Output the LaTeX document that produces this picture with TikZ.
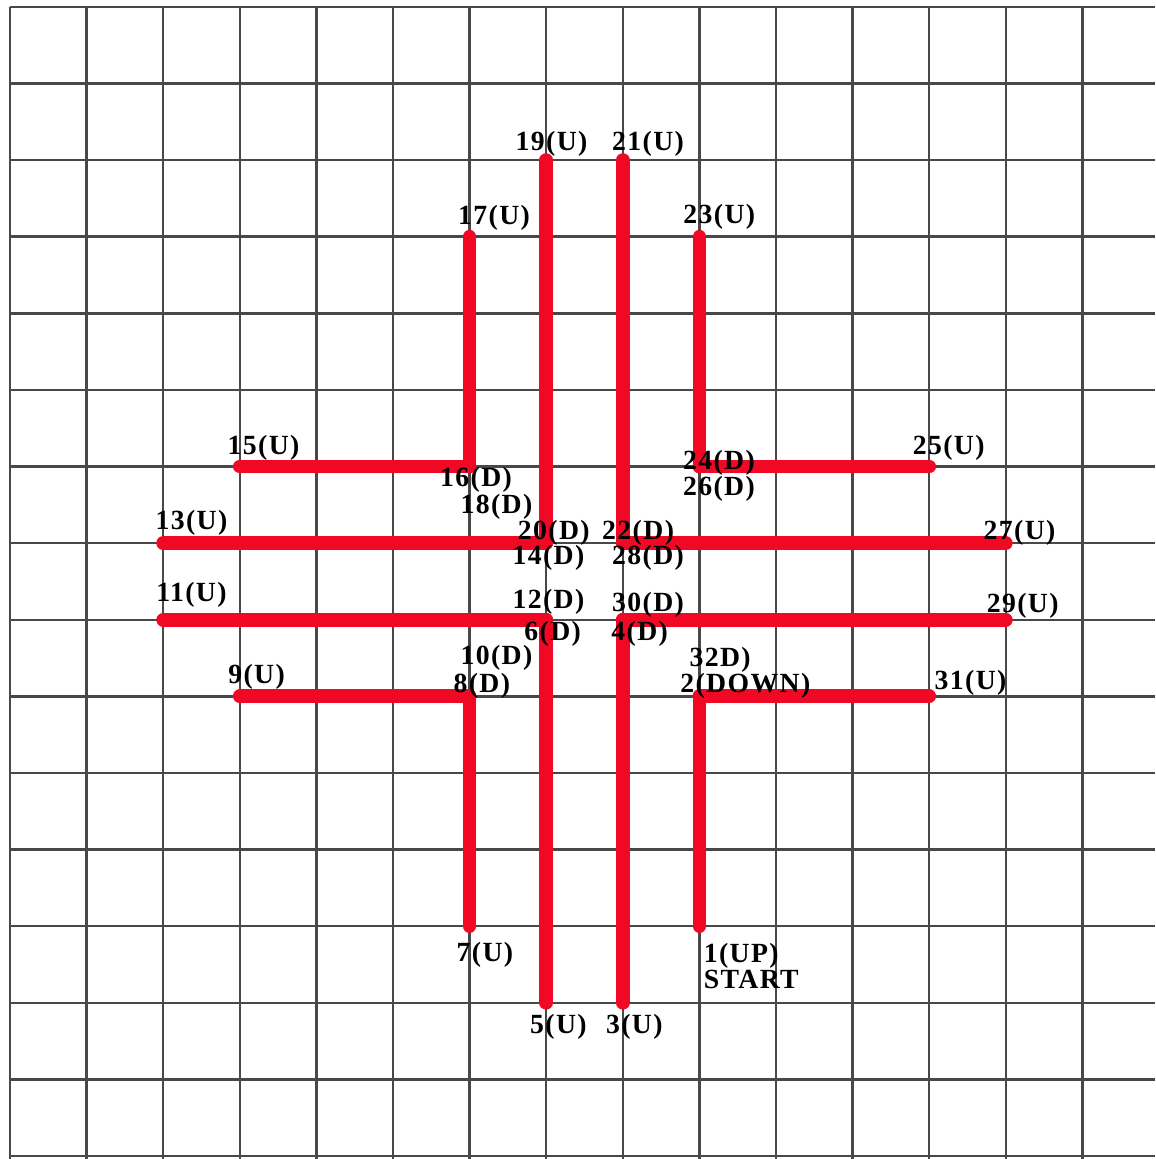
\documentclass[tikz,border=0pt]{standalone}
\usepackage{fontspec}
\setmainfont{Liberation Serif}[LetterSpace=5]
\usepackage{tikz}
\usetikzlibrary{calc}
\definecolor{piros}{RGB}{240,8,36}
\definecolor{szurke}{RGB}{72,72,72}
\tikzset{
  racs/.style={draw=szurke,line width=0.9pt},
  toll/.style={draw=piros,line width=5.1pt,line cap=round},
  cimke/.style={inner sep=0pt,font=\bfseries\fontsize{10.3}{9.5}\selectfont},
}

\begin{document}
\begin{tikzpicture}
  \useasboundingbox (-0.13,0.09) rectangle (14.95,-15.04);
  \fill[white] (-0.13,0.09) rectangle (14.95,-15.04);
  \draw[racs] (0,0) grid (14.95,-15.04);
  % pontok: sorszam/oszlop/sor
  \foreach \n/\x/\y in {1/9/12, 2/9/9, 3/8/13, 4/8/8, 5/7/13, 6/7/8, 7/6/12, 8/6/9,
    9/3/9, 10/6/9, 11/2/8, 12/7/8, 13/2/7, 14/7/7, 15/3/6, 16/6/6,
    17/6/3, 18/6/6, 19/7/2, 20/7/7, 21/8/2, 22/8/7, 23/9/3, 24/9/6,
    25/12/6, 26/9/6, 27/13/7, 28/8/7, 29/13/8, 30/8/8, 31/12/9, 32/9/9}
    \coordinate (p\n) at (\x,-\y);
  % vonalak (U -> D)
  \foreach \a/\b in {1/2,3/4,5/6,7/8,9/10,11/12,13/14,15/16,
    17/18,19/20,21/22,23/24,25/26,27/28,29/30,31/32}
    \draw[toll] (p\a) -- (p\b);
  % feliratok
  \foreach \n/\dx/\dy/\txt in {19/0.07/0.21/{19(U)}, 21/0.33/0.21/{21(U)},
    17/0.32/0.24/{17(U)}, 23/0.26/0.26/{23(U)}, 15/0.31/0.25/{15(U)},
    16/0.085/-0.18/{16(D)}, 18/0.35/-0.52/{18(D)}, 13/0.37/0.26/{13(U)},
    20/0.1/0.13/{20(D)}, 14/0.03/-0.19/{14(D)}, 22/0.2/0.13/{22(D)},
    28/0.33/-0.19/{28(D)}, 27/0.18/0.13/{27(U)}, 11/0.37/0.33/{11(U)},
    12/0.03/0.23/{12(D)}, 30/0.33/0.2/{30(D)}, 29/0.22/0.18/{29(U)},
    6/0.085/-0.18/{6(D)}, 4/0.22/-0.18/{4(D)}, 10/0.35/0.5/{10(D)},
    8/0.16/0.14/{8(D)}, 9/0.22/0.25/{9(U)}, 32/0.27/0.47/{32D)},
    2/0.6/0.14/{2(DOWN)}, 31/0.54/0.18/{31(U)}, 24/0.255/0.05/{24(D)},
    26/0.255/-0.29/{26(D)}, 25/0.255/0.25/{25(U)}, 7/0.2/-0.37/{7(U)},
    5/0.16/-0.32/{5(U)}, 3/0.15/-0.32/{3(U)}}
    \node[cimke] (l\n) at ([shift={(\dx,\dy)}]p\n) {\txt};
  \node[cimke,anchor=north west,align=left] (l1) at ([shift={(0.05,-0.22)}]p1) {1(UP)\\START};
\end{tikzpicture}
\end{document}
